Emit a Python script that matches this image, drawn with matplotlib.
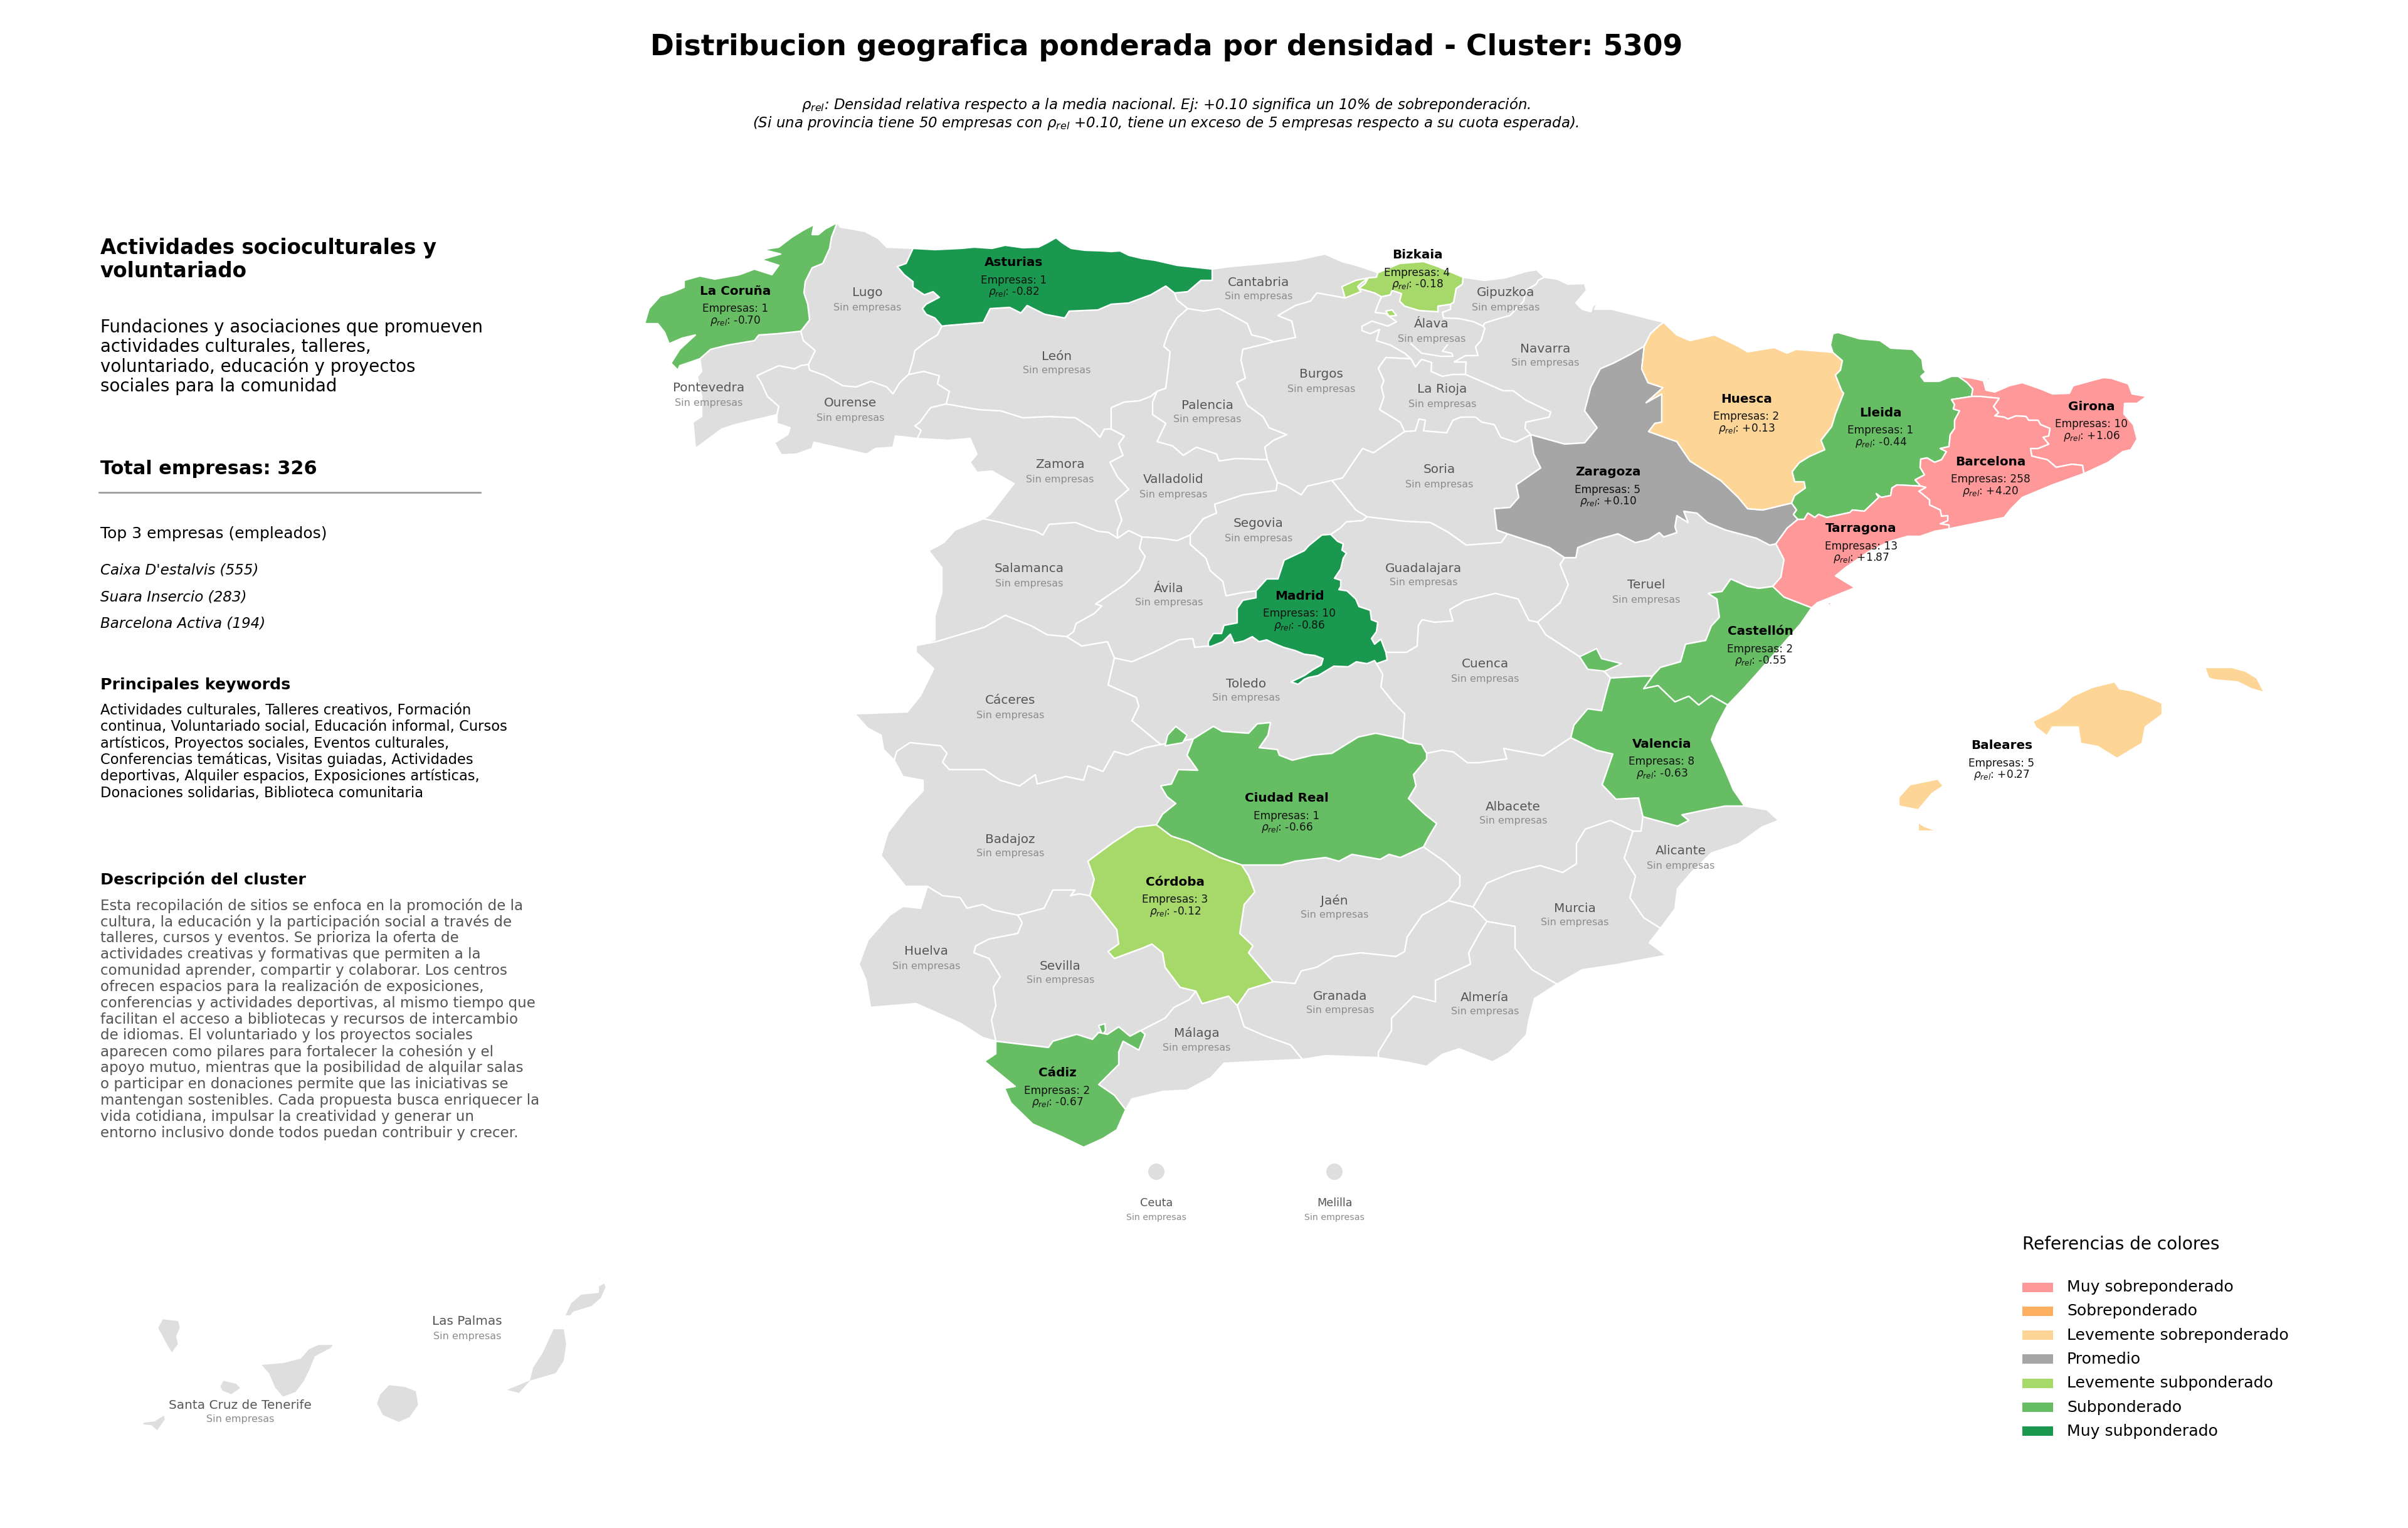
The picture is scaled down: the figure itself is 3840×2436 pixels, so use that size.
import math

import matplotlib

matplotlib.use("Agg")
import matplotlib.pyplot as plt
from matplotlib.patches import Circle, Polygon, Rectangle

# Province borders, shared borders are kept once
# Map units are the pixels of the 3840x2436 image
ARCS = {
    "coast_coru": [(1116, 572), (1084, 583), (1081, 590), (1070, 579), (1084, 557), (1109, 534), (1088, 539), (1067, 548), (1060, 530), (1049, 516), (1028, 516), (1035, 492), (1053, 472), (1070, 467), (1091, 458), (1091, 447), (1116, 440), (1140, 445), (1179, 438), (1203, 429), (1231, 438), (1242, 423), (1214, 414), (1245, 405), (1217, 398), (1242, 394), (1263, 378), (1281, 367), (1298, 358), (1295, 374), (1305, 374), (1316, 365), (1335, 355)],
    "coru_lugo": [(1335, 355), (1326, 378), (1323, 396), (1312, 420), (1295, 427), (1284, 449), (1282, 467), (1288, 485), (1291, 510), (1277, 528)],
    "coru_pont": [(1277, 528), (1239, 532), (1210, 534), (1203, 543), (1161, 550), (1133, 557), (1116, 572)],
    "coast_lugo": [(1335, 355), (1340, 362), (1358, 365), (1379, 369), (1400, 380), (1414, 394), (1456, 396)],
    "lugo_astu": [(1456, 396), (1445, 420), (1431, 425), (1442, 438), (1456, 449), (1456, 458), (1474, 470), (1488, 465), (1498, 474), (1477, 485), (1471, 492), (1477, 501), (1491, 507), (1502, 520)],
    "lugo_leon": [(1502, 520), (1495, 534), (1477, 545), (1459, 559), (1456, 574), (1449, 597)],
    "lugo_oure": [(1449, 597), (1435, 610), (1424, 628), (1414, 617), (1389, 608), (1365, 617), (1344, 615), (1316, 599), (1291, 590), (1289, 581)],
    "lugo_pont": [(1289, 581), (1300, 559), (1281, 543), (1277, 528)],
    "coast_pont": [(1116, 572), (1119, 592), (1112, 601), (1119, 632), (1119, 664), (1105, 673), (1109, 715), (1151, 684), (1172, 677), (1239, 661)],
    "pont_oure": [(1289, 581), (1277, 583), (1267, 588), (1242, 583), (1207, 599), (1214, 610), (1224, 632), (1242, 648), (1239, 661)],
    "ext_oure": [(1239, 661), (1239, 675), (1260, 682), (1256, 693), (1235, 706), (1246, 725), (1270, 724), (1295, 715), (1298, 705), (1351, 717), (1382, 724), (1396, 715), (1424, 713), (1428, 695), (1463, 699)],
    "oure_leon": [(1449, 597), (1473, 592), (1498, 599), (1495, 612), (1514, 624), (1509, 644)],
    "oure_zamo": [(1509, 644), (1484, 650), (1467, 673), (1459, 679), (1469, 686), (1463, 699)],
    "coast_astu": [(1456, 396), (1491, 398), (1533, 396), (1554, 394), (1582, 396), (1603, 391), (1631, 395), (1656, 394), (1670, 387), (1684, 379), (1694, 387), (1708, 396), (1730, 399), (1758, 400), (1772, 401), (1786, 400), (1800, 407), (1821, 412), (1842, 415), (1877, 423), (1905, 426), (1933, 429)],
    "astu_cant": [(1933, 429), (1933, 447), (1915, 447), (1894, 465), (1873, 467)],
    "astu_leon": [(1873, 467), (1859, 456), (1835, 470), (1800, 483), (1772, 485), (1751, 494), (1705, 496), (1698, 507), (1666, 501), (1638, 487), (1628, 499), (1610, 490), (1579, 492), (1568, 514), (1509, 519), (1502, 520)],
    "cant_leon": [(1873, 467), (1877, 478), (1894, 492)],
    "leon_zamo": [(1509, 644), (1561, 653), (1596, 655), (1631, 666), (1673, 664), (1715, 666), (1740, 682), (1754, 697), (1761, 684), (1772, 684)],
    "leon_vall": [(1772, 684), (1772, 650), (1793, 641), (1817, 639), (1835, 632), (1845, 624)],
    "leon_pale": [(1894, 492), (1877, 507), (1863, 530), (1856, 552), (1866, 561), (1863, 588), (1859, 619), (1845, 624)],
    "pale_vall": [(1845, 624), (1838, 641), (1838, 661), (1859, 675), (1845, 704), (1870, 711), (1887, 726), (1908, 713), (1940, 724), (1944, 735), (1972, 731), (2021, 733)],
    "pale_cant": [(1894, 492), (1919, 496), (1944, 492), (1965, 503), (1989, 516), (1996, 534), (2017, 539), (2031, 545)],
    "pale_burg": [(2031, 545), (1982, 557), (1979, 574), (1986, 603), (1972, 610), (1979, 624), (1989, 646), (2014, 664), (2024, 682), (2052, 693), (2031, 702), (2017, 713), (2021, 733)],
    "cant_burg": [(2031, 545), (2066, 538), (2060, 512), (2038, 503), (2066, 487), (2090, 480), (2100, 467), (2145, 475), (2170, 465), (2167, 460)],
    "cant_biz": [(2167, 460), (2177, 452), (2182, 443), (2195, 442), (2197, 435)],
    "coast_cant": [(1933, 429), (1961, 425), (2017, 420), (2067, 415), (2113, 405), (2140, 417), (2163, 423), (2190, 432), (2197, 435)],
    "coast_biz": [(2197, 435), (2232, 420), (2270, 417), (2293, 425), (2333, 442)],
    "biz_gipu": [(2333, 442), (2332, 453), (2322, 460), (2318, 482), (2313, 485)],
    "biz_alav": [(2313, 485), (2293, 488), (2293, 497), (2263, 495), (2240, 488), (2232, 480), (2235, 468), (2220, 463), (2217, 470), (2203, 473)],
    "biz_burg": [(2203, 473), (2192, 467), (2175, 462), (2167, 460)],
    "alav_burg": [(2203, 473), (2197, 487), (2193, 498), (2210, 500), (2227, 513), (2213, 520), (2188, 512), (2172, 520), (2172, 527), (2185, 532), (2200, 525), (2195, 543), (2217, 550), (2240, 563), (2250, 572)],
    "alav_gipu": [(2365, 520), (2350, 513), (2327, 508), (2302, 507), (2300, 498), (2313, 493), (2313, 485)],
    "alav_rioj": [(2250, 572), (2257, 585), (2267, 573), (2283, 578), (2282, 592), (2300, 600), (2317, 597), (2337, 597)],
    "alav_nava": [(2337, 597), (2338, 577), (2319, 577), (2337, 567), (2357, 567), (2353, 553), (2362, 543), (2368, 523), (2365, 520)],
    "coast_gipu": [(2333, 442), (2340, 443), (2367, 447), (2400, 443), (2433, 433), (2450, 430), (2463, 442)],
    "gipu_nava": [(2463, 442), (2453, 447), (2450, 453), (2433, 463), (2430, 480), (2408, 503), (2390, 508), (2368, 515), (2365, 520)],
    "coast_nava": [(2463, 442), (2483, 445), (2500, 453), (2527, 452), (2530, 463), (2513, 483), (2523, 493), (2537, 497), (2540, 488), (2548, 482), (2543, 493), (2570, 493), (2610, 503), (2653, 514)],
    "nava_hues": [(2653, 514), (2646, 519), (2632, 532), (2622, 552)],
    "nava_rioj": [(2337, 597), (2360, 607), (2397, 623), (2413, 623), (2433, 638), (2473, 657), (2470, 665), (2433, 673), (2432, 683), (2441, 693)],
    "nava_zara": [(2441, 693), (2495, 708), (2527, 706), (2547, 682), (2527, 655), (2537, 617), (2552, 588), (2573, 579), (2600, 565), (2622, 552)],
    "rioj_sori": [(2441, 693), (2417, 705), (2393, 697), (2383, 677), (2363, 673), (2353, 665), (2330, 665), (2317, 670), (2307, 690), (2270, 687), (2273, 670), (2263, 668), (2257, 687), (2240, 688)],
    "rioj_burg": [(2240, 688), (2233, 673), (2200, 653), (2207, 633), (2203, 617), (2207, 607), (2198, 587), (2210, 570), (2250, 572)],
    "burg_sori": [(2240, 688), (2190, 722), (2173, 715), (2141, 762), (2124, 766)],
    "burg_sego": [(2124, 766), (2085, 775), (2075, 789), (2052, 775), (2037, 769)],
    "burg_vall": [(2021, 733), (2028, 749), (2037, 769)],
    "vall_sego": [(1898, 853), (1919, 827), (1940, 818), (1937, 804), (1982, 789), (2035, 782), (2037, 769)],
    "vall_avil": [(1821, 856), (1850, 858), (1877, 862), (1898, 853)],
    "vall_sala": [(1782, 858), (1800, 846), (1821, 856)],
    "vall_zamo": [(1772, 684), (1793, 695), (1784, 708), (1791, 726), (1770, 737), (1782, 760), (1800, 780), (1779, 798), (1789, 829), (1782, 845), (1782, 858)],
    "ext_zamo": [(1463, 699), (1512, 702), (1547, 699), (1558, 724), (1547, 737), (1558, 753), (1582, 751), (1617, 771), (1596, 798), (1579, 820), (1568, 827)],
    "zamo_sala": [(1568, 827), (1596, 833), (1631, 842), (1652, 847), (1663, 853), (1673, 836), (1715, 833), (1751, 847), (1768, 849), (1782, 858)],
    "ext_sala": [(1568, 827), (1523, 845), (1505, 865), (1481, 878), (1502, 905), (1502, 945), (1491, 981), (1491, 1020), (1461, 1029)],
    "sala_avil": [(1821, 856), (1817, 874), (1826, 887), (1817, 909), (1793, 932), (1747, 963), (1757, 966), (1745, 978), (1716, 994), (1712, 1007), (1701, 1015)],
    "sala_cace": [(1461, 1029), (1493, 1023), (1547, 1007), (1570, 1000), (1603, 981), (1645, 998), (1670, 1012), (1701, 1015)],
    "avil_cace": [(1701, 1015), (1725, 1030), (1766, 1023), (1777, 1049)],
    "avil_tole": [(1777, 1049), (1805, 1055), (1840, 1040), (1880, 1020), (1902, 1018), (1905, 1032), (1927, 1030)],
    "sego_avil": [(1898, 853), (1898, 868), (1923, 890), (1930, 910), (1950, 927), (1955, 950), (1980, 945), (2003, 942)],
    "sego_madr": [(2003, 942), (2020, 923), (2038, 923), (2048, 893), (2080, 878), (2087, 870), (2108, 853), (2122, 852)],
    "sego_guad": [(2122, 852), (2137, 842), (2147, 832), (2173, 830), (2180, 824)],
    "sori_sego": [(2124, 766), (2162, 813), (2180, 824)],
    "sori_guad": [(2180, 824), (2239, 831), (2281, 833), (2310, 849), (2338, 869), (2394, 865), (2404, 851)],
    "sori_zara": [(2404, 851), (2387, 845), (2383, 811), (2408, 809), (2422, 793), (2418, 773), (2457, 746), (2446, 724), (2441, 693)],
    "avil_madr": [(1927, 1030), (1927, 1023), (1935, 1010), (1948, 1010), (1952, 997), (1973, 993), (1973, 970), (1982, 957), (2003, 953), (2003, 942)],
    "madr_guad": [(2122, 852), (2133, 863), (2142, 867), (2140, 877), (2147, 882), (2142, 890), (2138, 907), (2128, 922), (2138, 925), (2138, 935), (2135, 940), (2148, 942), (2162, 955), (2167, 967), (2185, 973), (2187, 988), (2197, 992), (2195, 1007), (2187, 1018), (2192, 1027), (2202, 1019), (2210, 1040)],
    "madr_cuen": [(2210, 1040), (2212, 1052), (2195, 1058), (2192, 1053)],
    "madr_tole": [(2192, 1053), (2180, 1058), (2163, 1055), (2150, 1063), (2127, 1062), (2102, 1077), (2087, 1080), (2080, 1083), (2070, 1091), (2059, 1087), (2080, 1077), (2093, 1068), (2107, 1060), (2110, 1050), (2097, 1045), (2080, 1043), (2065, 1037), (2047, 1032), (2030, 1025), (2020, 1020), (2008, 1023), (1997, 1015), (1983, 1022), (1968, 1025), (1962, 1011), (1950, 1023), (1930, 1031), (1927, 1030)],
    "guad_cuen": [(2210, 1040), (2243, 1040), (2260, 1030), (2262, 997), (2268, 988), (2287, 992), (2317, 990), (2312, 972), (2336, 958), (2385, 946), (2421, 955), (2438, 989), (2452, 992)],
    "guad_teru": [(2452, 992), (2488, 961), (2501, 932), (2488, 900), (2495, 889)],
    "guad_zara": [(2404, 851), (2471, 873), (2495, 889)],
    "hues_zara": [(2622, 552), (2618, 588), (2628, 610), (2652, 618), (2625, 642), (2650, 628), (2650, 673), (2639, 675), (2629, 688), (2674, 704), (2695, 735), (2744, 766), (2772, 793), (2787, 811), (2811, 813), (2857, 802)],
    "coast_hues": [(2653, 514), (2674, 534), (2695, 543), (2734, 534), (2772, 552), (2787, 561), (2829, 554), (2850, 563), (2864, 557), (2916, 561), (2923, 562)],
    "hues_llei": [(2923, 562), (2938, 575), (2935, 590), (2927, 598), (2937, 623), (2940, 627), (2927, 660), (2921, 680), (2904, 702), (2910, 717), (2885, 728), (2869, 738), (2858, 752), (2862, 768), (2877, 768), (2879, 778), (2862, 790), (2857, 802)],
    "zara_llei": [(2857, 802), (2865, 813), (2860, 820), (2867, 828)],
    "zara_tarr": [(2867, 828), (2850, 842), (2832, 867)],
    "zara_teru": [(2832, 867), (2822, 869), (2801, 858), (2752, 845), (2723, 833), (2706, 818), (2685, 815), (2692, 833), (2674, 822), (2671, 840), (2674, 849), (2653, 856), (2646, 849), (2629, 860), (2608, 865), (2580, 851), (2548, 860), (2516, 873), (2513, 889), (2495, 889)],
    "coast_llei": [(2923, 562), (2919, 550), (2923, 532), (2931, 530), (2965, 540), (2998, 543), (3015, 555), (3050, 557), (3065, 573), (3067, 588), (3071, 593), (3063, 600), (3069, 608), (3092, 608), (3112, 600), (3123, 600)],
    "llei_giro": [(3123, 600), (3137, 610), (3146, 620), (3144, 632)],
    "llei_barc": [(3144, 632), (3112, 637), (3117, 645), (3115, 652), (3125, 655), (3117, 670), (3117, 683), (3110, 693), (3108, 712), (3094, 715), (3104, 720), (3096, 733), (3085, 737), (3073, 730), (3063, 732), (3062, 745), (3069, 757), (3054, 765), (3063, 775)],
    "llei_tarr": [(3063, 775), (3025, 773), (3017, 778), (3015, 790), (3000, 793), (2992, 787), (2996, 793), (2973, 815), (2954, 813), (2950, 817), (2913, 825), (2900, 820), (2894, 825), (2883, 818), (2877, 828), (2867, 828)],
    "giro_barc": [(3144, 632), (3158, 632), (3188, 635), (3179, 648), (3187, 658), (3181, 663), (3196, 665), (3202, 668), (3215, 663), (3231, 664), (3235, 670), (3250, 670), (3254, 677), (3269, 683), (3267, 695), (3258, 697), (3267, 708), (3250, 715), (3238, 715), (3240, 727), (3265, 733), (3279, 745), (3304, 740), (3321, 742), (3323, 755)],
    "coast_giro": [(3323, 755), (3362, 737), (3385, 720), (3398, 717), (3408, 700), (3402, 677), (3387, 660), (3388, 643), (3408, 643), (3423, 632), (3400, 628), (3394, 612), (3367, 603), (3354, 602), (3335, 607), (3306, 615), (3300, 627), (3273, 628), (3254, 620), (3225, 610), (3204, 615), (3181, 625), (3167, 622), (3163, 607), (3146, 603), (3123, 600)],
    "coast_barc": [(3108, 843), (3196, 825), (3206, 812), (3225, 793), (3273, 773), (3323, 755)],
    "barc_tarr": [(3063, 775), (3071, 777), (3060, 783), (3077, 797), (3077, 805), (3094, 813), (3096, 823), (3106, 822), (3106, 830), (3094, 835), (3108, 837), (3108, 843)],
    "coast_tarr": [(2889, 969), (2898, 961), (2958, 937), (2927, 918), (2943, 905), (2979, 880), (3014, 863), (3042, 855), (3062, 855), (3085, 847), (3108, 843)],
    "tarr_cast": [(2827, 935), (2845, 952), (2889, 969)],
    "tarr_teru": [(2832, 867), (2845, 892), (2840, 920), (2827, 935)],
    "teru_cast": [(2827, 935), (2805, 938), (2787, 935), (2760, 923), (2746, 943), (2724, 946), (2738, 955), (2742, 984), (2729, 998), (2720, 1021), (2688, 1027), (2680, 1055), (2648, 1064), (2635, 1078)],
    "coast_cast": [(2889, 969), (2871, 995), (2836, 1035), (2800, 1076), (2782, 1096), (2755, 1124)],
    "cast_vale": [(2635, 1078), (2621, 1098), (2644, 1093), (2671, 1119), (2693, 1110), (2709, 1124), (2729, 1109), (2755, 1124)],
    "teru_cuen": [(2452, 992), (2465, 1012), (2519, 1047), (2560, 1072), (2568, 1081)],
    "teru_vale": [(2568, 1081), (2621, 1078), (2635, 1078)],
    "cuen_vale": [(2568, 1081), (2563, 1098), (2554, 1133), (2532, 1130), (2510, 1156), (2505, 1176)],
    "cuen_alba": [(2505, 1176), (2461, 1205), (2412, 1196), (2398, 1193), (2403, 1210), (2358, 1216), (2340, 1216), (2318, 1199), (2300, 1196), (2275, 1201)],
    "vale_alba": [(2505, 1176), (2546, 1196), (2572, 1202), (2555, 1251), (2577, 1274), (2613, 1272), (2620, 1302)],
    "vale_alic": [(2620, 1302), (2675, 1317), (2693, 1308), (2682, 1299), (2720, 1291), (2751, 1285), (2782, 1285)],
    "coast_vale": [(2782, 1285), (2764, 1259), (2751, 1228), (2729, 1179), (2738, 1156), (2755, 1124)],
    "coast_alic": [(2782, 1285), (2818, 1291), (2836, 1308), (2809, 1319), (2773, 1345), (2729, 1360), (2697, 1391), (2675, 1417), (2671, 1449), (2648, 1480)],
    "alba_alic": [(2620, 1302), (2617, 1325), (2604, 1325)],
    "alba_murc": [(2604, 1325), (2568, 1308), (2528, 1322), (2514, 1345), (2514, 1377), (2492, 1391), (2456, 1380), (2412, 1391), (2371, 1408), (2349, 1446)],
    "alic_murc": [(2604, 1325), (2590, 1368), (2608, 1397), (2599, 1431), (2621, 1463), (2648, 1480)],
    "coast_murc": [(2648, 1480), (2630, 1503), (2657, 1523), (2608, 1532), (2577, 1538), (2523, 1546), (2483, 1569)],
    "murc_alme": [(2483, 1569), (2443, 1546), (2416, 1512), (2416, 1477), (2371, 1469)],
    "murc_gran": [(2349, 1446), (2371, 1469)],
    "alme_gran": [(2371, 1469), (2359, 1488), (2342, 1519), (2345, 1537), (2289, 1563), (2289, 1597), (2254, 1588), (2219, 1623), (2219, 1643), (2198, 1677), (2198, 1686)],
    "coast_alme": [(2198, 1686), (2247, 1694), (2275, 1700), (2300, 1681), (2327, 1672), (2380, 1693), (2407, 1678), (2434, 1650), (2438, 1627), (2447, 1592), (2483, 1569)],
    "alba_gran": [(2310, 1436), (2349, 1446)],
    "alba_jaen": [(2270, 1350), (2303, 1373), (2328, 1396), (2328, 1413), (2310, 1436)],
    "jaen_gran": [(2310, 1436), (2268, 1459), (2244, 1494), (2240, 1517), (2226, 1525), (2170, 1519), (2128, 1525), (2100, 1542), (2075, 1548), (2065, 1568), (2030, 1565)],
    "jaen_cord": [(1980, 1379), (1991, 1396), (2001, 1422), (1984, 1442), (1977, 1488), (1998, 1508), (1991, 1519), (2030, 1565)],
    "cord_gran": [(2030, 1565), (1991, 1577), (1973, 1603)],
    "cord_mala": [(1973, 1603), (1959, 1588), (1917, 1600), (1907, 1580)],
    "cord_sevi": [(1907, 1580), (1882, 1574), (1858, 1542), (1854, 1519), (1837, 1505), (1823, 1511), (1777, 1528), (1767, 1517), (1784, 1505), (1781, 1482), (1738, 1428)],
    "cord_bada": [(1738, 1428), (1745, 1402), (1735, 1373), (1774, 1344), (1812, 1319), (1844, 1315)],
    "cr_cord": [(1980, 1379), (1945, 1367), (1896, 1342), (1868, 1333), (1844, 1315)],
    "cr_jaen": [(2270, 1350), (2233, 1367), (2215, 1362), (2201, 1370), (2156, 1362), (2135, 1373), (2114, 1367), (2065, 1373), (2044, 1379), (1980, 1379)],
    "cr_alba": [(2275, 1201), (2275, 1210), (2254, 1235), (2258, 1253), (2246, 1273), (2272, 1298), (2291, 1313), (2279, 1333), (2270, 1350)],
    "cr_cuen": [(2237, 1178), (2247, 1184), (2267, 1187), (2275, 1201)],
    "cr_tole": [(1903, 1178), (1935, 1158), (1949, 1166), (1991, 1169), (2005, 1154), (2026, 1152), (2022, 1172), (2008, 1192), (2037, 1195), (2040, 1204), (2061, 1212), (2093, 1204), (2124, 1201), (2166, 1175), (2194, 1169), (2237, 1178)],
    "cr_bada": [(1903, 1178), (1893, 1204), (1910, 1228), (1879, 1227), (1868, 1250), (1851, 1253), (1861, 1270), (1875, 1281), (1854, 1298), (1844, 1315)],
    "tole_cuen": [(2192, 1053), (2205, 1075), (2202, 1095), (2222, 1120), (2240, 1138), (2237, 1178)],
    "tole_bada": [(1851, 1187), (1903, 1178)],
    "cace_tole": [(1777, 1049), (1767, 1092), (1812, 1112), (1816, 1126), (1805, 1149), (1851, 1187)],
    "cace_bada": [(1426, 1212), (1430, 1198), (1451, 1184), (1500, 1189), (1510, 1201), (1503, 1215), (1514, 1227), (1570, 1227), (1595, 1244), (1626, 1253), (1651, 1235), (1654, 1250), (1700, 1238), (1728, 1244), (1735, 1221), (1759, 1230), (1777, 1198), (1798, 1204), (1826, 1192), (1851, 1187)],
    "ext_cace": [(1461, 1029), (1461, 1040), (1489, 1066), (1468, 1109), (1447, 1135), (1363, 1138), (1384, 1161), (1405, 1172), (1409, 1195), (1426, 1212)],
    "ext_bada": [(1426, 1212), (1440, 1238), (1472, 1244), (1472, 1261), (1447, 1287), (1416, 1327), (1405, 1364), (1444, 1413), (1475, 1413), (1479, 1413)],
    "bada_sevi": [(1738, 1428), (1721, 1425), (1707, 1428), (1714, 1419), (1679, 1419), (1665, 1448), (1623, 1459)],
    "bada_huel": [(1623, 1459), (1584, 1451), (1567, 1442), (1542, 1448), (1531, 1431), (1503, 1428), (1479, 1413)],
    "ext_huel": [(1479, 1413), (1468, 1448), (1440, 1445), (1419, 1459), (1384, 1499), (1370, 1537), (1381, 1563), (1388, 1606), (1461, 1600), (1531, 1631), (1567, 1654), (1588, 1660)],
    "huel_sevi": [(1623, 1459), (1630, 1471), (1623, 1488), (1577, 1497), (1556, 1508), (1553, 1519), (1577, 1528), (1595, 1557), (1584, 1574), (1588, 1603), (1581, 1626), (1588, 1660)],
    "sevi_cadi": [(1588, 1660), (1672, 1670), (1679, 1660), (1717, 1649), (1742, 1657), (1752, 1646), (1766, 1649), (1784, 1637), (1802, 1652), (1819, 1643)],
    "sevi_mala": [(1907, 1580), (1896, 1594), (1872, 1606), (1858, 1623), (1819, 1643)],
    "cadi_mala": [(1819, 1643), (1826, 1649), (1816, 1674), (1791, 1660), (1784, 1677), (1784, 1697), (1752, 1729), (1777, 1746), (1795, 1769)],
    "coast_cadi": [(1795, 1769), (1781, 1801), (1759, 1815), (1728, 1829), (1693, 1812), (1647, 1792), (1612, 1758), (1602, 1735), (1619, 1732), (1570, 1692), (1588, 1680), (1588, 1660)],
    "coast_mala": [(1795, 1769), (1805, 1752), (1854, 1740), (1893, 1738), (1931, 1718), (1952, 1695), (2009, 1692), (2077, 1689)],
    "mala_gran": [(1973, 1603), (1984, 1637), (2016, 1651), (2058, 1666), (2077, 1689)],
    "coast_gran": [(2077, 1689), (2114, 1683), (2198, 1686)],
}

# Which borders close each province
PROVINCE_RINGS = {
    "La Coruña": ["coast_coru", "coru_lugo", "coru_pont"],
    "Lugo": ["coast_lugo", "lugo_astu", "lugo_leon", "lugo_oure", "lugo_pont", "coru_lugo"],
    "Asturias": ["coast_astu", "astu_cant", "astu_leon", "lugo_astu"],
    "Pontevedra": ["coru_pont", "coast_pont", "pont_oure", "lugo_pont"],
    "Ourense": ["pont_oure", "ext_oure", "oure_zamo", "oure_leon", "lugo_oure"],
    "Zamora": ["oure_zamo", "ext_zamo", "zamo_sala", "vall_zamo", "leon_zamo"],
    "León": ["astu_leon", "lugo_leon", "oure_leon", "leon_zamo", "leon_vall", "leon_pale", "cant_leon"],
    "Cantabria": ["coast_cant", "cant_biz", "cant_burg", "pale_cant", "cant_leon", "astu_cant"],
    "Palencia": ["pale_cant", "pale_burg", "pale_vall", "leon_pale"],
    "Valladolid": ["leon_vall", "pale_vall", "burg_vall", "vall_sego", "vall_avil", "vall_sala", "vall_zamo"],
    "Burgos": ["cant_burg", "biz_burg", "alav_burg", "rioj_burg", "burg_sori", "burg_sego", "burg_vall", "pale_burg"],
    "Bizkaia": ["coast_biz", "biz_gipu", "biz_alav", "biz_burg", "cant_biz"],
    "Gipuzkoa": ["coast_gipu", "gipu_nava", "alav_gipu", "biz_gipu"],
    "Álava": ["biz_alav", "alav_gipu", "alav_nava", "alav_rioj", "alav_burg"],
    "Navarra": ["coast_nava", "nava_hues", "nava_zara", "nava_rioj", "alav_nava", "gipu_nava"],
    "La Rioja": ["nava_rioj", "rioj_sori", "rioj_burg", "alav_rioj"],
    "Soria": ["rioj_sori", "burg_sori", "sori_sego", "sori_guad", "sori_zara"],
    "Segovia": ["vall_sego", "burg_sego", "sori_sego", "sego_guad", "sego_madr", "sego_avil"],
    "Ávila": ["vall_avil", "sego_avil", "avil_madr", "avil_tole", "avil_cace", "sala_avil"],
    "Salamanca": ["zamo_sala", "vall_sala", "sala_avil", "sala_cace", "ext_sala"],
    "Madrid": ["sego_madr", "madr_guad", "madr_cuen", "madr_tole", "avil_madr"],
    "Guadalajara": ["sego_guad", "sori_guad", "guad_zara", "guad_teru", "guad_cuen", "madr_guad"],
    "Zaragoza": ["sori_zara", "nava_zara", "hues_zara", "zara_llei", "zara_tarr", "zara_teru", "guad_zara"],
    "Huesca": ["coast_hues", "hues_llei", "hues_zara", "nava_hues"],
    "Lleida": ["coast_llei", "llei_giro", "llei_barc", "llei_tarr", "zara_llei", "hues_llei"],
    "Girona": ["coast_giro", "llei_giro", "giro_barc"],
    "Barcelona": ["giro_barc", "coast_barc", "barc_tarr", "llei_barc"],
    "Tarragona": ["barc_tarr", "coast_tarr", "tarr_cast", "tarr_teru", "zara_tarr", "llei_tarr"],
    "Teruel": ["zara_teru", "guad_teru", "teru_cuen", "teru_vale", "teru_cast", "tarr_teru"],
    "Castellón": ["tarr_cast", "coast_cast", "cast_vale", "teru_cast"],
    "Valencia": ["teru_vale", "cast_vale", "coast_vale", "vale_alic", "vale_alba", "cuen_vale"],
    "Cuenca": ["guad_cuen", "teru_cuen", "cuen_vale", "cuen_alba", "cr_cuen", "tole_cuen", "madr_cuen"],
    "Toledo": ["avil_tole", "madr_tole", "tole_cuen", "cr_tole", "tole_bada", "cace_tole"],
    "Cáceres": ["sala_cace", "avil_cace", "cace_tole", "cace_bada", "ext_cace"],
    "Ciudad Real": ["cr_tole", "cr_cuen", "cr_alba", "cr_jaen", "cr_cord", "cr_bada"],
    "Badajoz": ["cace_bada", "tole_bada", "cr_bada", "cord_bada", "bada_sevi", "bada_huel", "ext_bada"],
    "Córdoba": ["cr_cord", "jaen_cord", "cord_gran", "cord_mala", "cord_sevi", "cord_bada"],
    "Jaén": ["cr_jaen", "jaen_cord", "jaen_gran", "alba_jaen"],
    "Albacete": ["cr_alba", "alba_jaen", "alba_gran", "alba_murc", "alba_alic", "vale_alba", "cuen_alba"],
    "Alicante": ["vale_alic", "coast_alic", "alic_murc", "alba_alic"],
    "Murcia": ["alic_murc", "coast_murc", "murc_alme", "murc_gran", "alba_murc"],
    "Almería": ["murc_alme", "alme_gran", "coast_alme"],
    "Granada": ["alba_gran", "murc_gran", "alme_gran", "coast_gran", "mala_gran", "cord_gran", "jaen_gran"],
    "Málaga": ["mala_gran", "coast_mala", "cadi_mala", "sevi_mala", "cord_mala"],
    "Sevilla": ["cord_sevi", "bada_sevi", "huel_sevi", "sevi_cadi", "sevi_mala"],
    "Huelva": ["bada_huel", "ext_huel", "huel_sevi"],
    "Cádiz": ["sevi_cadi", "cadi_mala", "coast_cadi"],
}

# Islands and enclaves, these are closed rings already
EXTRA_RINGS = {
    "Bizkaia": [
        [(2140, 457), (2162, 447), (2182, 443), (2170, 452), (2165, 457), (2170, 465), (2145, 475)],
        [(2210, 496), (2220, 494), (2227, 503), (2215, 504)],
    ],
    "Ciudad Real": [[(1875, 1158), (1893, 1172), (1886, 1184), (1858, 1189), (1862, 1172)]],
    "Valencia": [[(2546, 1034), (2554, 1050), (2586, 1058), (2559, 1070), (2532, 1067), (2519, 1047)]],
    "Cádiz": [[(1752, 1635), (1762, 1632), (1763, 1643), (1758, 1650)]],
    "Navarra": [[(2587, 599), (2594, 608), (2580, 608)], [(2571, 608), (2576, 610), (2571, 615), (2567, 613)]],
    "Girona": [[(3170, 600), (3174, 605), (3169, 606)]],
    "Tarragona": [[(2912, 962), (2922, 960), (2918, 965)]],
    "Baleares": [
        [(3242, 1150), (3282, 1130), (3305, 1110), (3336, 1096), (3372, 1087), (3380, 1098), (3398, 1101), (3430, 1113), (3448, 1121), (3448, 1139), (3421, 1159), (3416, 1185), (3376, 1209), (3345, 1190), (3318, 1185), (3314, 1159), (3273, 1159), (3264, 1173), (3246, 1159)],
        [(3516, 1064), (3559, 1064), (3581, 1070), (3599, 1081), (3611, 1104), (3590, 1098), (3568, 1087), (3532, 1084), (3522, 1081)],
        [(3028, 1271), (3046, 1251), (3090, 1242), (3099, 1253), (3081, 1265), (3059, 1291), (3028, 1285)],
        [(3059, 1311), (3068, 1317), (3090, 1325), (3059, 1325)],
    ],
    "Santa Cruz de Tenerife": [
        [(259, 2102), (285, 2105), (288, 2117), (282, 2130), (285, 2143), (274, 2158), (267, 2147), (251, 2117)],
        [(415, 2175), (451, 2172), (479, 2165), (492, 2150), (508, 2143), (533, 2143), (528, 2150), (503, 2163), (495, 2183), (485, 2203), (472, 2220), (451, 2228), (438, 2213), (428, 2190)],
        [(356, 2200), (377, 2205), (385, 2213), (369, 2224), (354, 2218), (350, 2210)],
        [(262, 2255), (264, 2263), (251, 2282), (241, 2273), (227, 2272), (228, 2267), (246, 2265)],
    ],
    "Las Palmas": [
        [(620, 2207), (646, 2210), (664, 2217), (668, 2240), (654, 2260), (636, 2268), (610, 2257), (600, 2238), (605, 2223)],
        [(882, 2118), (900, 2118), (904, 2143), (900, 2170), (887, 2190), (846, 2202), (828, 2222), (805, 2216), (844, 2200), (849, 2180), (864, 2157)],
        [(900, 2098), (910, 2077), (926, 2063), (954, 2060), (954, 2050), (964, 2045), (967, 2052), (959, 2070), (944, 2083), (915, 2092), (910, 2098)],
        [(953, 2036), (958, 2037), (955, 2043)],
    ],
}

# Treviño shows up only as a white line inside Alava
TREVINO_LINE = [(2250, 548), (2267, 563), (2297, 568), (2317, 568), (2315, 563), (2300, 560), (2308, 550)]
CITIES = {"Ceuta": (1844, 1868), "Melilla": (2128, 1868)}
CITY_RADIUS = 13

# Provinces with companies
ACTIVE_NAMES = ["La Coruña", "Asturias", "Bizkaia", "Huesca", "Lleida", "Girona", "Barcelona", "Zaragoza",
                "Tarragona", "Madrid", "Castellón", "Valencia", "Baleares", "Ciudad Real", "Córdoba", "Cádiz"]
ACTIVE_COUNTS = [1, 1, 4, 2, 1, 10, 258, 5, 13, 10, 2, 8, 5, 1, 3, 2]
ACTIVE_RHO = [-0.70, -0.82, -0.18, 0.13, -0.44, 1.06, 4.20, 0.10, 1.87, -0.86, -0.55, -0.63, 0.27, -0.66, -0.12, -0.67]

# Where the name of each province sits
LABEL_POS = {
    "La Coruña": (1173, 464), "Asturias": (1617, 419), "Lugo": (1383, 467), "Cantabria": (2007, 450),
    "Pontevedra": (1130, 619), "León": (1685, 568), "Ourense": (1356, 643), "Palencia": (1925, 646),
    "Zamora": (1690, 741), "Valladolid": (1871, 765), "Segovia": (2007, 835), "Salamanca": (1641, 907),
    "Ávila": (1864, 938), "Madrid": (2072, 950), "Burgos": (2107, 597), "Bizkaia": (2260, 407),
    "Gipuzkoa": (2401, 467), "Álava": (2283, 517), "Navarra": (2464, 556), "La Rioja": (2300, 621),
    "Soria": (2295, 749), "Huesca": (2785, 636), "Lleida": (2999, 658), "Girona": (3335, 648),
    "Barcelona": (3174, 736), "Tarragona": (2968, 843), "Zaragoza": (2564, 753), "Guadalajara": (2270, 906),
    "Teruel": (2625, 933), "Castellón": (2807, 1007), "Cuenca": (2368, 1059), "Valencia": (2650, 1186),
    "Baleares": (3192, 1189), "Albacete": (2413, 1286), "Alicante": (2680, 1357), "Murcia": (2511, 1448),
    "Almería": (2368, 1590), "Toledo": (1987, 1090), "Cáceres": (1611, 1117), "Ciudad Real": (2052, 1273),
    "Badajoz": (1611, 1338), "Córdoba": (1874, 1406), "Jaén": (2128, 1436), "Huelva": (1477, 1517),
    "Sevilla": (1691, 1540), "Granada": (2137, 1588), "Málaga": (1908, 1647), "Cádiz": (1686, 1711),
    "Ceuta": (1844, 1918), "Melilla": (2128, 1918), "Las Palmas": (745, 2107),
    "Santa Cruz de Tenerife": (383, 2240),
}

LEGEND_NAMES = ["Muy sobreponderado", "Sobreponderado", "Levemente sobreponderado", "Promedio",
                "Levemente subponderado", "Subponderado", "Muy subponderado"]
LEGEND_COLORS = ["#FF9999", "#FDAE61", "#FDD597", "#A6A6A6", "#A6D96A", "#66BD63", "#1A9850"]
EMPTY_COLOR = "#DEDEDE"

TITLE = "Distribucion geografica ponderada por densidad - Cluster: 5309"
SUBTITLE = [
    r"$\rho_{rel}$: Densidad relativa respecto a la media nacional. Ej: +0.10 significa un 10% de sobreponderación.",
    r"(Si una provincia tiene 50 empresas con $\rho_{rel}$ +0.10, tiene un exceso de 5 empresas respecto a su cuota esperada).",
]
HEADLINE = ["Actividades socioculturales y", "voluntariado"]
SUMMARY = ["Fundaciones y asociaciones que promueven", "actividades culturales, talleres,",
           "voluntariado, educación y proyectos", "sociales para la comunidad"]
TOTAL = 326
TOP_COMPANIES = ["Caixa D'estalvis", "Suara Insercio", "Barcelona Activa"]
TOP_EMPLOYEES = [555, 283, 194]
KEYWORDS = ["Actividades culturales, Talleres creativos, Formación",
            "continua, Voluntariado social, Educación informal, Cursos",
            "artísticos, Proyectos sociales, Eventos culturales,",
            "Conferencias temáticas, Visitas guiadas, Actividades",
            "deportivas, Alquiler espacios, Exposiciones artísticas,",
            "Donaciones solidarias, Biblioteca comunitaria"]
DESCRIPTION = ["Esta recopilación de sitios se enfoca en la promoción de la",
               "cultura, la educación y la participación social a través de",
               "talleres, cursos y eventos. Se prioriza la oferta de",
               "actividades creativas y formativas que permiten a la",
               "comunidad aprender, compartir y colaborar. Los centros",
               "ofrecen espacios para la realización de exposiciones,",
               "conferencias y actividades deportivas, al mismo tiempo que",
               "facilitan el acceso a bibliotecas y recursos de intercambio",
               "de idiomas. El voluntariado y los proyectos sociales",
               "aparecen como pilares para fortalecer la cohesión y el",
               "apoyo mutuo, mientras que la posibilidad de alquilar salas",
               "o participar en donaciones permite que las iniciativas se",
               "mantengan sostenibles. Cada propuesta busca enriquecer la",
               "vida cotidiana, impulsar la creatividad y generar un",
               "entorno inclusivo donde todos puedan contribuir y crecer."]


def dist(a, b):
    return math.hypot(a[0] - b[0], a[1] - b[1])


def build_ring(names):
    # Chain the borders, flipping each one so that its start meets the last point
    parts = [ARCS[name] for name in names]
    pts = list(parts[0])
    second = parts[1]
    if min(dist(pts[0], second[0]), dist(pts[0], second[-1])) < min(dist(pts[-1], second[0]), dist(pts[-1], second[-1])):
        pts.reverse()
    for arc in parts[1:]:
        if dist(pts[-1], arc[0]) <= dist(pts[-1], arc[-1]):
            pts.extend(arc)
        else:
            pts.extend(arc[::-1])
    return pts


def rho_color(rho):
    if rho > 0.5:
        return LEGEND_COLORS[0] if rho > 1 else LEGEND_COLORS[1]
    if rho > 0.10:
        return LEGEND_COLORS[2]
    if rho >= -0.10:
        return LEGEND_COLORS[3]
    if rho >= -0.30:
        return LEGEND_COLORS[4]
    if rho >= -0.80:
        return LEGEND_COLORS[5]
    return LEGEND_COLORS[6]


def main():
    fig = plt.figure(figsize=(16, 10.15))
    ax = fig.add_axes([0, 0, 1, 1])
    ax.set_xlim(0, 3840)
    ax.set_ylim(2436, 0)
    ax.axis("off")

    colors = {name: rho_color(rho) for name, rho in zip(ACTIVE_NAMES, ACTIVE_RHO)}

    # Grey provinces first so that the coloured ones get clean white borders on top
    all_names = list(PROVINCE_RINGS) + [n for n in EXTRA_RINGS if n not in PROVINCE_RINGS]
    for name in sorted(all_names, key=lambda n: n in colors):
        color = colors.get(name, EMPTY_COLOR)
        rings = list(EXTRA_RINGS.get(name, []))
        if name in PROVINCE_RINGS:
            rings.append(build_ring(PROVINCE_RINGS[name]))
        for ring in rings:
            ax.add_patch(Polygon(ring, closed=True, facecolor=color, edgecolor="white", linewidth=0.7,
                                 joinstyle="round", zorder=2 if name in colors else 1))
    ax.plot(*zip(*TREVINO_LINE), color="white", linewidth=0.7, zorder=1.5)
    for center in CITIES.values():
        ax.add_patch(Circle(center, CITY_RADIUS, facecolor=EMPTY_COLOR, edgecolor="none", zorder=1))

    # Labels on the map
    for name, (x, y) in LABEL_POS.items():
        if name in ACTIVE_NAMES:
            i = ACTIVE_NAMES.index(name)
            ax.text(x, y, name, ha="center", va="center", fontsize=6, fontweight="bold", color="black", zorder=3)
            ax.text(x, y + 28, f"Empresas: {ACTIVE_COUNTS[i]}", ha="center", va="center", fontsize=5.1, color="#111111", zorder=3)
            ax.text(x, y + 47, rf"$\rho_{{rel}}$: {ACTIVE_RHO[i]:+.2f}", ha="center", va="center", fontsize=5.1, color="#111111", zorder=3)
        elif name in CITIES:
            ax.text(x, y, name, ha="center", va="center", fontsize=5.3, color="#555555", zorder=3)
            ax.text(x, y + 23, "Sin empresas", ha="center", va="center", fontsize=4.25, color="#8c8c8c", zorder=3)
        else:
            ax.text(x, y, name, ha="center", va="center", fontsize=6, color="#555555", zorder=3)
            ax.text(x, y + 23, "Sin empresas", ha="center", va="center", fontsize=4.8, color="#8c8c8c", zorder=3)

    # Title block
    ax.text(1860, 75, TITLE, ha="center", va="center", fontsize=13.7, fontweight="bold")
    ax.text(1859, 167, SUBTITLE[0], ha="center", va="center", fontsize=6.85, style="italic")
    ax.text(1859, 197, SUBTITLE[1], ha="center", va="center", fontsize=6.85, style="italic")

    # Left panel
    left = 160
    for y, line in zip([396, 432], HEADLINE):
        ax.text(left, y, line, va="center", fontsize=9.8, fontweight="bold")
    for y, line in zip([522, 553, 584, 616], SUMMARY):
        ax.text(left, y, line, va="center", fontsize=8.3)
    ax.text(left, 747, f"Total empresas: {TOTAL}", va="center", fontsize=9.1, fontweight="bold")
    ax.plot([158, 766], [785, 785], color="#999999", linewidth=0.8)
    ax.text(left, 851, "Top 3 empresas (empleados)", va="center", fontsize=7.5)
    for y, company, staff in zip([909, 952, 994], TOP_COMPANIES, TOP_EMPLOYEES):
        ax.text(left, y, f"{company} ({staff})", va="center", fontsize=6.9, style="italic")
    ax.text(left, 1092, "Principales keywords", va="center", fontsize=7.6, fontweight="bold")
    for i, line in enumerate(KEYWORDS):
        ax.text(left, 1132 + i * 26.4, line, va="center", fontsize=6.8)
    ax.text(left, 1402, "Descripción del cluster", va="center", fontsize=7.6, fontweight="bold")
    for i, line in enumerate(DESCRIPTION):
        ax.text(left, 1444 + i * 25.86, line, va="center", fontsize=6.9, color="#555555")

    # Colour references
    ax.text(3225, 1984, "Referencias de colores", va="center", fontsize=8.35)
    for i, (label, color) in enumerate(zip(LEGEND_NAMES, LEGEND_COLORS)):
        y = 2052 + i * 38.3
        ax.add_patch(Rectangle((3225, y - 7.5), 49, 15, facecolor=color, edgecolor="none"))
        ax.text(3296, y, label, va="center", fontsize=7.55)

    fig.savefig("out.png", dpi=240, facecolor="white")
    plt.close(fig)


if __name__ == "__main__":
    main()
